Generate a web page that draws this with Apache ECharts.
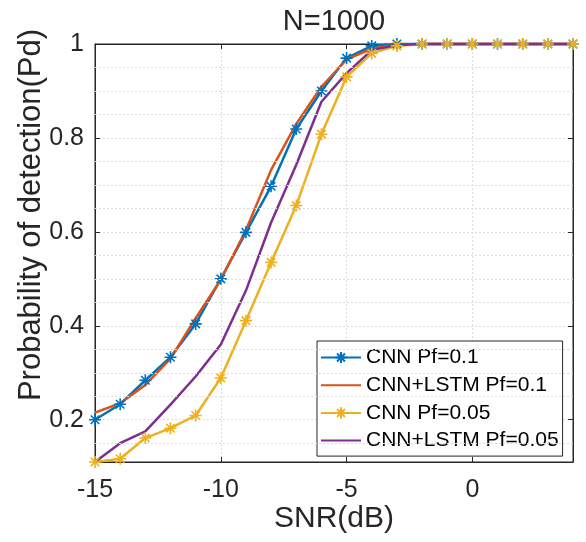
<!DOCTYPE html>
<html>
<head>
<meta charset="utf-8">
<script src="https://cdn.jsdelivr.net/npm/echarts@6/dist/echarts.min.js"></script>
<style>html,body{margin:0;padding:0;background:#fff;}#c{width:586px;height:542px;}</style>
</head>
<body>
<div id="c"></div>
<script>
// ---- data ----
var snr = [-15,-14,-13,-12,-11,-10,-9,-8,-7,-6,-5,-4,-3,-2,-1,0,1,2,3,4];
var cnnPf01 = [0.200,0.233,0.284,0.333,0.404,0.500,0.599,0.697,0.819,0.900,0.970,0.996,1,1,1,1,1,1,1,1];
var lstmPf01 = [0.215,0.235,0.274,0.330,0.416,0.498,0.604,0.732,0.830,0.909,0.967,0.990,0.999,1,1,1,1,1,1,1];
var cnnPf005 = [0.110,0.117,0.161,0.182,0.209,0.289,0.411,0.535,0.656,0.808,0.930,0.980,0.996,1,1,1,1,1,1,1];
var lstmPf005 = [0.110,0.150,0.175,0.232,0.292,0.360,0.475,0.620,0.743,0.877,0.938,0.987,0.998,1,1,1,1,1,1,1];
var seriesNames = ['CNN Pf=0.1','CNN+LSTM Pf=0.1','CNN Pf=0.05','CNN+LSTM Pf=0.05'];
var xTickLabels = [-15,-10,-5,0];
var yTickLabels = [0.2,0.4,0.6,0.8,1];
var yMinorGrid = [0.15,0.25,0.3,0.35,0.45,0.5,0.55,0.65,0.7,0.75,0.85,0.9,0.95];
var yMin = 0.11, yMax = 1, xMin = -15, xMax = 4;

function pairs(ys){ return snr.map(function(x,i){ return [x, ys[i]]; }); }

var FONT = 'Liberation Sans, Arial, sans-serif';
var AX = '#262626';
var GRID = '#dcdcdc';
var star = 'path://M6,0L6,12M0,6L12,6M1.76,1.76L10.24,10.24M1.76,10.24L10.24,1.76';
var colors = ['#0072BD','#D95319','#EDB120','#7E2F8E'];
var datasets = [cnnPf01, lstmPf01, cnnPf005, lstmPf005];
var markers = [true,false,true,false];

var chart = echarts.init(document.getElementById('c'), null, {renderer:'canvas'});

var series = datasets.map(function(d,i){
  return {
    name: seriesNames[i], type:'line', data: pairs(d),
    xAxisIndex:0, yAxisIndex:0, clip:false,
    symbol: markers[i] ? star : 'none',
    symbolSize: 12, showSymbol: markers[i],
    lineStyle:{color:colors[i], width:2.5},
    itemStyle:{color:colors[i], borderColor:colors[i], borderWidth:1.6},
    emphasis:{disabled:true}, animation:false, z: 3
  };
});
series.unshift({
  name:'grid', type:'line', data:[], xAxisIndex:0, yAxisIndex:0, silent:true, z:1,
  markLine:{ silent:true, symbol:'none', label:{show:false}, animation:false,
    lineStyle:{color:GRID, type:[2,2], width:1},
    data: yMinorGrid.map(function(v){ return {yAxis:v}; }) }
});

var tickStyle = {show:true, inside:true, length:5, lineStyle:{color:AX, width:1}};

chart.setOption({
  animation:false,
  backgroundColor:'#fff',
  color: colors,
  title:{ text:'N=1000', left:334, top:7, textAlign:'center', padding:0,
    textStyle:{fontFamily:FONT, fontSize:29, fontWeight:'normal', color:AX} },
  grid:{ left:95, right:13, top:44, bottom:80, show:true, borderColor:AX, borderWidth:1, backgroundColor:'transparent' },
  legend:{
    data: seriesNames.map(function(n,i){
      return markers[i] ? {name:n} : {name:n, itemStyle:{opacity:0}};
    }),
    orient:'vertical', left:317, top:341,
    itemWidth:40, itemHeight:14, itemGap:6.7,
    padding:[6,4,5,3],
    backgroundColor:'#fff', borderColor:'#262626', borderWidth:1,
    textStyle:{fontFamily:FONT, fontSize:21, color:'#000'},
    selectedMode:false
  },
  xAxis:[
    { type:'value', min:xMin, max:xMax, interval:1,
      name:'SNR(dB)', nameLocation:'middle', nameGap:42, nameMoveOverlap:false,
      nameTextStyle:{fontFamily:FONT, fontSize:30, color:AX},
      axisLine:{show:true, onZero:false, lineStyle:{color:AX, width:1}},
      axisTick:Object.assign({customValues:xTickLabels}, tickStyle),
      axisLabel:{margin:16, fontFamily:FONT, fontSize:25, color:AX, customValues:xTickLabels},
      splitLine:{show:true, lineStyle:{color:GRID, type:[2,2], width:1}}
    },
    { type:'value', min:xMin, max:xMax, interval:1, position:'top',
      axisLine:{show:true, onZero:false, lineStyle:{color:AX}},
      axisTick:Object.assign({customValues:xTickLabels}, tickStyle),
      axisLabel:{show:false}, splitLine:{show:false} }
  ],
  yAxis:[
    { type:'value', min:yMin, max:yMax, splitNumber:5,
      name:'Probability of detection(Pd)', nameLocation:'middle', nameGap:48, nameRotate:90, nameMoveOverlap:false,
      nameTextStyle:{fontFamily:FONT, fontSize:31, color:AX, padding:[0,0,0,76]},
      axisLine:{show:true, onZero:false, lineStyle:{color:AX, width:1}},
      axisTick:Object.assign({customValues:yTickLabels}, tickStyle),
      axisLabel:{margin:11, fontFamily:FONT, fontSize:25, color:AX, customValues:yTickLabels},
      splitLine:{show:true, lineStyle:{color:GRID, type:[2,2], width:1}}
    },
    { type:'value', min:yMin, max:yMax, splitNumber:5, position:'right',
      axisLine:{show:true, onZero:false, lineStyle:{color:AX}},
      axisTick:Object.assign({customValues:yTickLabels}, tickStyle),
      axisLabel:{show:false}, splitLine:{show:false} }
  ],
  series: series
});
</script>
</body>
</html>
